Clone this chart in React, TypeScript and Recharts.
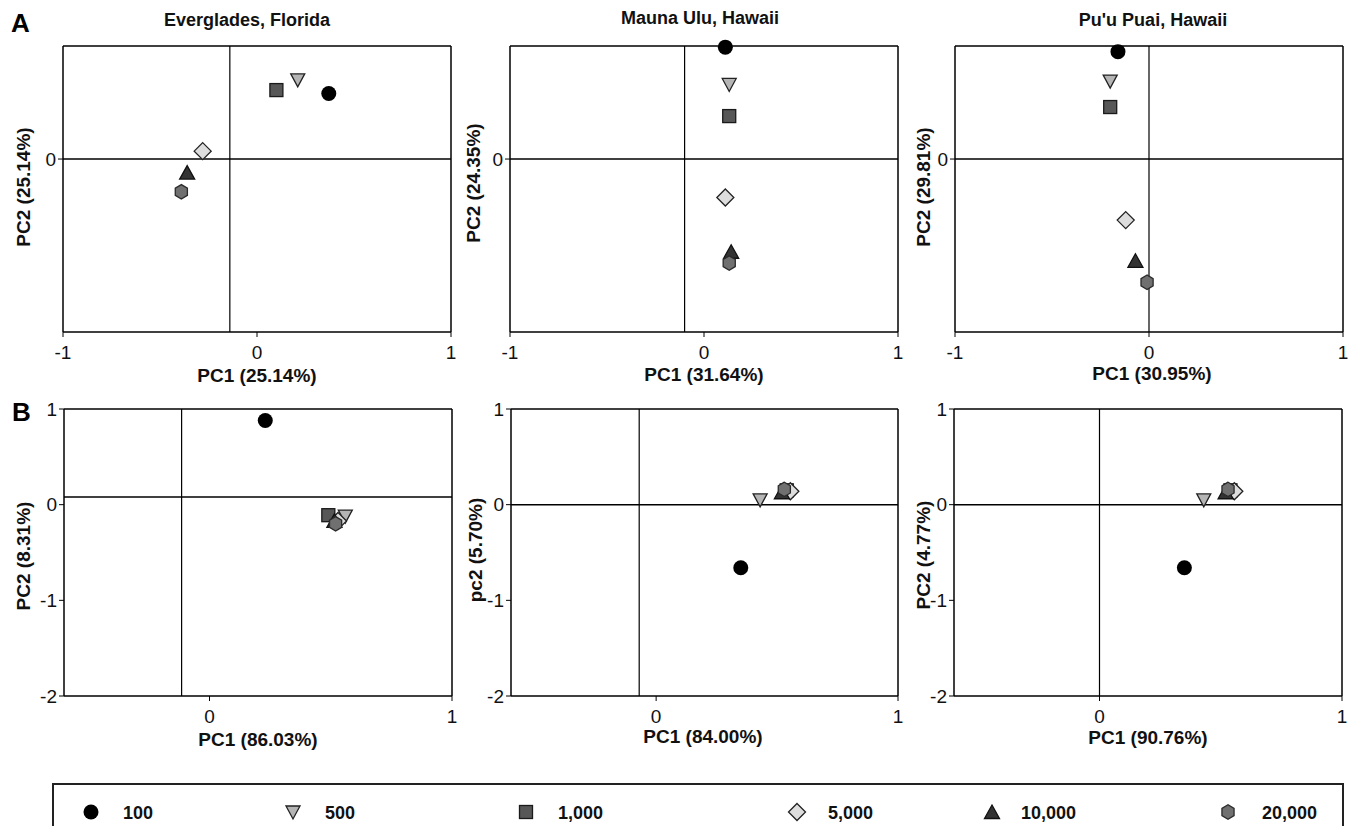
import { ScatterChart, Scatter, XAxis, YAxis, ReferenceLine } from "recharts";

const concentrations = ["100", "500", "1,000", "5,000", "10,000", "20,000"];

// row A
const evergladesA_pc1 = [0.37, 0.21, 0.1, -0.28, -0.36, -0.39];
const evergladesA_pc2 = [0.58, 0.7, 0.61, 0.07, -0.12, -0.29];
const maunaUluA_pc1 = [0.11, 0.13, 0.13, 0.11, 0.14, 0.13];
const maunaUluA_pc2 = [0.99, 0.66, 0.38, -0.34, -0.82, -0.92];
const puuPuaiA_pc1 = [-0.16, -0.2, -0.2, -0.12, -0.07, -0.01];
const puuPuaiA_pc2 = [0.95, 0.69, 0.46, -0.54, -0.9, -1.09];

// row B
const evergladesB_pc1 = [0.23, 0.56, 0.49, 0.53, 0.515, 0.52];
const evergladesB_pc2 = [0.88, -0.12, -0.11, -0.17, -0.17, -0.2];
const maunaUluB_pc1 = [0.35, 0.43, 0.54, 0.555, 0.52, 0.53];
const maunaUluB_pc2 = [-0.66, 0.05, 0.15, 0.14, 0.13, 0.16];
const puuPuaiB_pc1 = [0.35, 0.43, 0.54, 0.556, 0.52, 0.53];
const puuPuaiB_pc2 = [-0.66, 0.05, 0.15, 0.14, 0.13, 0.16];

const markerStyles = [
  { kind: "circle", fill: "#000000", stroke: "#000000" },
  { kind: "triDown", fill: "#b5b5b5", stroke: "#222222" },
  { kind: "square", fill: "#575757", stroke: "#1a1a1a" },
  { kind: "diamond", fill: "#dddddd", stroke: "#222222" },
  { kind: "triUp", fill: "#333333", stroke: "#111111" },
  { kind: "hexagon", fill: "#707070", stroke: "#2a2a2a" },
];

const FONT = '"Liberation Sans", Arial, Helvetica, sans-serif';

function Marker({ cx, cy, kind, fill, stroke }: any) {
  const sw = 1.3;
  if (kind === "circle") return <circle cx={cx} cy={cy} r={7.5} fill={fill} />;
  if (kind === "triDown")
    return (
      <polygon
        points={`${cx - 7},${cy - 6} ${cx + 7},${cy - 6} ${cx},${cy + 7}`}
        fill={fill}
        stroke={stroke}
        strokeWidth={sw}
      />
    );
  if (kind === "square")
    return <rect x={cx - 6.5} y={cy - 6.5} width={13} height={13} fill={fill} stroke={stroke} strokeWidth={sw} />;
  if (kind === "diamond")
    return (
      <polygon
        points={`${cx},${cy - 8.5} ${cx + 8.5},${cy} ${cx},${cy + 8.5} ${cx - 8.5},${cy}`}
        fill={fill}
        stroke={stroke}
        strokeWidth={sw}
      />
    );
  if (kind === "triUp")
    return (
      <polygon
        points={`${cx - 7.5},${cy + 6.5} ${cx + 7.5},${cy + 6.5} ${cx},${cy - 7}`}
        fill={fill}
        stroke={stroke}
        strokeWidth={sw}
      />
    );
  const pts = [];
  for (let i = 0; i < 6; i++) {
    const a = (Math.PI / 3) * i + Math.PI / 2;
    pts.push(`${cx + 7 * Math.cos(a)},${cy - 7.2 * Math.sin(a)}`);
  }
  return <polygon points={pts.join(" ")} fill={fill} stroke={stroke} strokeWidth={sw} />;
}

function XTick({ x, y, payload }: any) {
  return (
    <text x={x} y={y} dy="0.71em" textAnchor="middle" fill="#111" fontSize={19} fontFamily={FONT}>
      {payload.value}
    </text>
  );
}

function YTick({ x, y, payload }: any) {
  return (
    <text x={x} y={y} dy="0.355em" textAnchor="end" fill="#111" fontSize={19} fontFamily={FONT}>
      {payload.value}
    </text>
  );
}

function Txt({ x, y, size, bold, rotate, children }: any) {
  return (
    <div
      style={{
        position: "absolute",
        left: x,
        top: y,
        transform: `translate(-50%, -50%)${rotate ? " rotate(-90deg)" : ""}`,
        fontSize: size,
        fontWeight: bold ? "bold" : "normal",
        lineHeight: 1,
        whiteSpace: "nowrap",
        color: "#111",
      }}
    >
      {children}
    </div>
  );
}

function Panel({ left, top, w, h, xDomain, yDomain, xTicks, yTicks, vx, hy, pc1, pc2 }: any) {
  return (
    <div style={{ position: "absolute", left: left - 70, top: top - 10 }}>
      <ScatterChart width={w + 80} height={h + 60} margin={{ top: 10, right: 10, left: 0, bottom: 0 }}>
        <XAxis
          type="number"
          dataKey="x"
          domain={xDomain}
          ticks={xTicks}
          interval={0}
          height={50}
          tickSize={5}
          tickMargin={9}
          axisLine={{ stroke: "#000", strokeWidth: 1.5 }}
          tickLine={{ stroke: "#000" }}
          tick={<XTick />}
        />
        <YAxis
          type="number"
          dataKey="y"
          domain={yDomain}
          ticks={yTicks}
          interval={0}
          width={70}
          tickSize={5}
          tickMargin={2}
          axisLine={{ stroke: "#000", strokeWidth: 1.5 }}
          tickLine={{ stroke: "#000" }}
          tick={<YTick />}
        />
        <ReferenceLine y={yDomain[1]} stroke="#000" strokeWidth={1.5} />
        <ReferenceLine x={xDomain[1]} stroke="#000" strokeWidth={1.5} />
        <ReferenceLine y={hy} stroke="#000" strokeWidth={1.5} />
        <ReferenceLine x={vx} stroke="#000" strokeWidth={1.2} />
        {markerStyles.map((m, i) => (
          <Scatter
            key={concentrations[i]}
            name={concentrations[i]}
            data={[{ x: pc1[i], y: pc2[i] }]}
            isAnimationActive={false}
            shape={(p: any) => <Marker cx={p.cx} cy={p.cy} kind={m.kind} fill={m.fill} stroke={m.stroke} />}
          />
        ))}
      </ScatterChart>
    </div>
  );
}

const A_X = [-1, 1];
const A_Y = [-1.53, 1];
const B_X = [-0.6, 1];
const B_Y = [-2, 1];

const legendX = [91, 293, 526, 797, 992, 1228];
const legendTextX = [123, 325, 558, 828, 1021, 1262];

export default function App() {
  return (
    <div
      style={{
        position: "absolute",
        left: 0,
        top: 0,
        width: 1351,
        height: 826,
        overflow: "hidden",
        background: "#fff",
        fontFamily: FONT,
      }}
    >
      <div style={{ position: "absolute", left: 11, top: 10, fontSize: 26, fontWeight: "bold", lineHeight: 1 }}>A</div>
      <div style={{ position: "absolute", left: 12, top: 399, fontSize: 26, fontWeight: "bold", lineHeight: 1 }}>B</div>

      <Txt x={247} y={20} size={18} bold>Everglades, Florida</Txt>
      <Txt x={700} y={18} size={18} bold>Mauna Ulu, Hawaii</Txt>
      <Txt x={1153} y={20} size={18} bold>Pu'u Puai, Hawaii</Txt>

      <Panel left={63} top={46} w={388} h={286} xDomain={A_X} yDomain={A_Y} xTicks={[-1, 0, 1]} yTicks={[0]} vx={-0.14} hy={0} pc1={evergladesA_pc1} pc2={evergladesA_pc2} />
      <Panel left={510} top={46} w={388} h={286} xDomain={A_X} yDomain={A_Y} xTicks={[-1, 0, 1]} yTicks={[0]} vx={-0.1} hy={0} pc1={maunaUluA_pc1} pc2={maunaUluA_pc2} />
      <Panel left={955} top={46} w={388} h={286} xDomain={A_X} yDomain={A_Y} xTicks={[-1, 0, 1]} yTicks={[0]} vx={0} hy={0} pc1={puuPuaiA_pc1} pc2={puuPuaiA_pc2} />

      <Panel left={64} top={409} w={388} h={287} xDomain={B_X} yDomain={B_Y} xTicks={[0, 1]} yTicks={[-2, -1, 0, 1]} vx={-0.115} hy={0.08} pc1={evergladesB_pc1} pc2={evergladesB_pc2} />
      <Panel left={511} top={409} w={387} h={287} xDomain={B_X} yDomain={B_Y} xTicks={[0, 1]} yTicks={[-2, -1, 0, 1]} vx={-0.07} hy={0} pc1={maunaUluB_pc1} pc2={maunaUluB_pc2} />
      <Panel left={954} top={409} w={388} h={287} xDomain={B_X} yDomain={B_Y} xTicks={[0, 1]} yTicks={[-2, -1, 0, 1]} vx={0} hy={0} pc1={puuPuaiB_pc1} pc2={puuPuaiB_pc2} />

      <Txt x={23} y={187} size={19} bold rotate>PC2 (25.14%)</Txt>
      <Txt x={473} y={183} size={19} bold rotate>PC2 (24.35%)</Txt>
      <Txt x={923} y={187} size={19} bold rotate>PC2 (29.81%)</Txt>
      <Txt x={23} y={556} size={19} bold rotate>PC2 (8.31%)</Txt>
      <Txt x={475} y={550} size={19} bold rotate>pc2 (5.70%)</Txt>
      <Txt x={923} y={555} size={19} bold rotate>PC2 (4.77%)</Txt>

      <Txt x={257} y={375} size={19} bold>PC1 (25.14%)</Txt>
      <Txt x={704} y={374} size={19} bold>PC1 (31.64%)</Txt>
      <Txt x={1152} y={373} size={19} bold>PC1 (30.95%)</Txt>
      <Txt x={258} y={739} size={19} bold>PC1 (86.03%)</Txt>
      <Txt x={703} y={736} size={19} bold>PC1 (84.00%)</Txt>
      <Txt x={1148} y={737} size={19} bold>PC1 (90.76%)</Txt>

      <div
        style={{
          position: "absolute",
          left: 52,
          top: 783,
          width: 1288,
          height: 80,
          borderTop: "2px solid #222",
          borderLeft: "2px solid #222",
          borderRight: "2px solid #222",
        }}
      />
      {markerStyles.map((m, i) => (
        <div key={concentrations[i]}>
          <svg style={{ position: "absolute", left: legendX[i] - 10, top: 802, overflow: "visible" }} width={20} height={20}>
            <Marker cx={10} cy={10} kind={m.kind} fill={m.fill} stroke={m.stroke} />
          </svg>
          <div
            style={{
              position: "absolute",
              left: legendTextX[i],
              top: 804,
              fontSize: 18,
              fontWeight: "bold",
              lineHeight: 1,
              color: "#111",
            }}
          >
            {concentrations[i]}
          </div>
        </div>
      ))}
    </div>
  );
}
